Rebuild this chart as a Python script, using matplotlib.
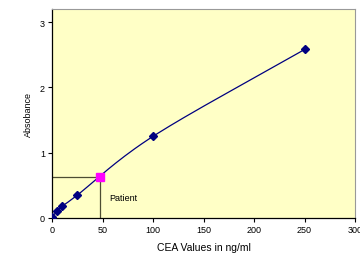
import numpy as np
import matplotlib.pyplot as plt

plt.rcParams['font.family'] = ['Liberation Sans', 'DejaVu Sans']

# standard curve
conc = [0, 5, 10, 25, 100, 250]
absorb = [0.02, 0.10, 0.18, 0.35, 1.25, 2.58]

# patient sample
patient_x = 47.5
patient_y = 0.63


def smooth(xs, ys, n=30):
    # Catmull-Rom style smoothing like Excel's smoothed line
    xs = np.asarray(xs, float)
    ys = np.asarray(ys, float)
    px = np.concatenate([[2 * xs[0] - xs[1]], xs, [2 * xs[-1] - xs[-2]]])
    py = np.concatenate([[2 * ys[0] - ys[1]], ys, [2 * ys[-1] - ys[-2]]])
    ox, oy = [], []
    t = np.linspace(0, 1, n)
    for i in range(1, len(px) - 2):
        for p, out in ((px, ox), (py, oy)):
            p0, p1, p2, p3 = p[i - 1], p[i], p[i + 1], p[i + 2]
            out.extend(0.5 * ((2 * p1) + (-p0 + p2) * t +
                              (2 * p0 - 5 * p1 + 4 * p2 - p3) * t ** 2 +
                              (-p0 + 3 * p1 - 3 * p2 + p3) * t ** 3))
    return ox, oy


fig = plt.figure(figsize=(3.6, 2.55), dpi=100)
ax = fig.add_axes([52 / 360, 1 - 219 / 255, 303 / 360, 209 / 255])
ax.set_facecolor('#ffffc6')

sx, sy = smooth(conc, absorb)
ax.plot(sx, sy, color='#000080', linewidth=0.9, zorder=3)
ax.plot(conc, absorb, linestyle='none', marker='D', markersize=4.5,
        color='#000080', zorder=4)

ax.plot([0, patient_x], [patient_y, patient_y], color='#4d4d33', linewidth=0.9, zorder=2)
ax.plot([patient_x, patient_x], [0, patient_y], color='#4d4d33', linewidth=0.9, zorder=2)
ax.plot([patient_x], [patient_y], linestyle='none', marker='s', markersize=6,
        color='#ff00ff', zorder=5)
ax.text(57, 0.31, 'Patient', fontsize=6.5, va='center', ha='left')

ax.set_xlim(0, 300)
ax.set_ylim(0, 3.2)
ax.set_xticks([0, 50, 100, 150, 200, 250, 300])
ax.set_yticks([0, 1, 2, 3])
ax.tick_params(labelsize=6.5, length=3, width=0.8, pad=2)
for s in ['left', 'bottom']:
    ax.spines[s].set_linewidth(0.9)
for s in ['top', 'right']:
    ax.spines[s].set_color('#999999')
    ax.spines[s].set_linewidth(0.8)

ax.set_xlabel('CEA Values in ng/ml', fontsize=7.5, labelpad=6)
ax.set_ylabel('Absobance', fontsize=6.5, labelpad=5)

fig.savefig('out.png', dpi=100)
